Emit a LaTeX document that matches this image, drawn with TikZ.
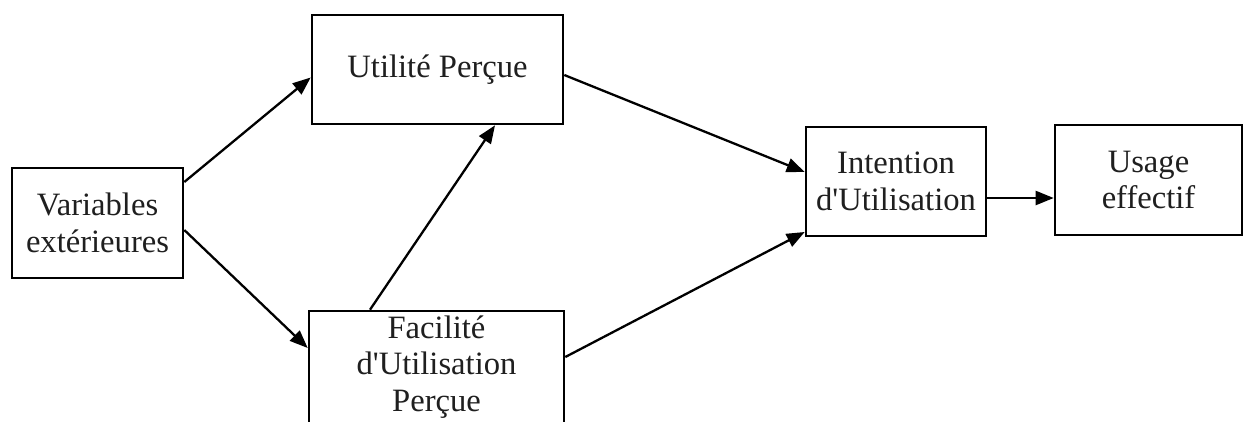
\documentclass[tikz,border=0pt]{standalone}
\usepackage{fontspec}
\setmainfont{Liberation Serif}[Ligatures=TeXOff]
\usetikzlibrary{arrows.meta}
\begin{document}
\begin{tikzpicture}[x=1pt,y=-1pt,
  box/.style={draw=black, line width=2.6pt, fill=white, align=center,
    inner sep=0pt, text=black!88, font=\fontsize{32.6}{36.5}\selectfont},
  link/.style={line width=2.3pt, -{Triangle[length=18pt,width=14pt]}}]
  \useasboundingbox (0,0) rectangle (1245,421);
  \clip (0,0) rectangle (1245,421);
  \fill[white] (0,0) rectangle (1245,421);

  % model constructs
  \node[box, minimum width=171pt, minimum height=110pt] (V) at (97.5,223) {Variables\\extérieures};
  \node[box, minimum width=251pt, minimum height=109pt] (U) at (437.5,69.5) {Utilité Perçue};
  \node[box, minimum width=255pt, minimum height=112pt] (F) at (436.5,367) {Facilité\\d'Utilisation\\Perçue};
  \node[box, minimum width=180pt, minimum height=109pt] (I) at (896,181.5) {Intention\\d'Utilisation};
  \node[box, minimum width=187pt, minimum height=110pt] (S) at (1148.5,180) {Usage\\effectif};

  % causal links
  \draw[link] ([yshift=41pt]V.east) -- ([yshift=-8pt]U.west);
  \draw[link] ([yshift=-7pt]V.east) -- ([yshift=19pt]F.west);
  \draw[link] ([xshift=-66.5pt]F.north) -- ([xshift=57.5pt]U.south);
  \draw[link] ([yshift=-5.5pt]U.east) -- ([yshift=9.5pt]I.west);
  \draw[link] ([yshift=10pt]F.east) -- ([yshift=-50.5pt]I.west);
  \draw[link] ([yshift=-16.5pt]I.east) -- ([yshift=-18pt]S.west);
\end{tikzpicture}
\end{document}
